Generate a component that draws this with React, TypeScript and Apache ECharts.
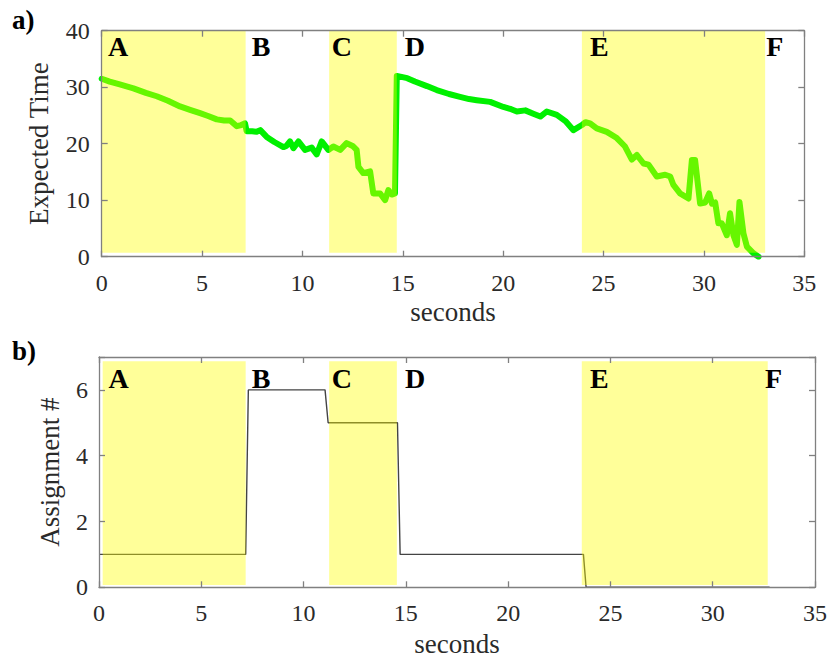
import React, { useEffect, useRef } from "react";
import * as echarts from "echarts";

// Panel a) Expected Time vs seconds: [t, value]
const expectedTime: number[][] = [
  [0, 31.5], [0.4, 31.0], [0.9, 30.5], [1.58, 29.8], [2.2, 29.0], [2.74, 28.4], [3.3, 27.6],
  [3.9, 26.6], [4.4, 26.0], [4.9, 25.4], [5.3, 24.9], [5.73, 24.3], [6.1, 24.1], [6.4, 24.1],
  [6.73, 23.1], [6.95, 23.3], [7.14, 23.6], [7.22, 22.2], [7.5, 22.2], [7.72, 22.1], [7.9, 22.4],
  [8.22, 21.2], [8.6, 20.3], [9.05, 19.4], [9.2, 19.6], [9.38, 20.4], [9.55, 19.2], [9.8, 20.4],
  [10.13, 18.9], [10.46, 19.3], [10.71, 18.1], [10.96, 20.4], [11.29, 18.9], [11.54, 19.5],
  [11.88, 18.9], [12.2, 20.1], [12.5, 19.6], [12.7, 18.9], [12.79, 15.9], [13.03, 14.8],
  [13.37, 15.1], [13.53, 11.2], [13.87, 11.2], [14.12, 10.0], [14.28, 11.8], [14.45, 11.0],
  [14.61, 11.2], [14.7, 32.0], [15.22, 31.6], [15.6, 31.0], [16.2, 30.2], [16.69, 29.5],
  [17.3, 28.8], [17.85, 28.3], [18.3, 27.9], [18.68, 27.7], [19.35, 27.4], [20.01, 26.5],
  [20.4, 26.1], [20.68, 25.7], [21.1, 25.9], [21.5, 25.3], [21.85, 24.8], [22.17, 25.7],
  [22.67, 25.1], [23.1, 24.0], [23.5, 22.4], [23.92, 23.3], [24.1, 23.8], [24.33, 23.6],
  [24.66, 22.7], [25.16, 22.1], [25.66, 21.0], [26.07, 19.5], [26.41, 17.2], [26.66, 18.0],
  [26.99, 16.5], [27.24, 16.3], [27.65, 14.2], [28.07, 14.5], [28.32, 14.2], [28.48, 12.7],
  [28.81, 11.2], [29.23, 10.3], [29.4, 17.1], [29.56, 17.1], [29.81, 9.4], [30.06, 9.6],
  [30.26, 11.2], [30.4, 9.4], [30.56, 9.6], [30.72, 5.9], [30.89, 5.9], [31.14, 3.8],
  [31.3, 7.7], [31.47, 3.8], [31.64, 2.1], [31.77, 9.7], [31.97, 4.1], [32.14, 1.8],
  [32.47, 0.6], [32.72, 0.0],
];

// Panel b) Assignment # vs seconds: [t, value]
const assignment: number[][] = [
  [0, 1], [7.17, 1], [7.3, 6], [11.05, 6], [11.2, 5], [14.59, 5], [14.72, 1],
  [23.68, 1], [23.81, 0], [32.78, 0],
];

// Shaded phases: [xStart, xEnd, yBottom, yTop]
const regionsA: number[][] = [
  [0, 7.17, 0.7, 40], [11.33, 14.7, 0.7, 40], [23.92, 33.05, 0.7, 40],
];
const regionsB: number[][] = [
  [0.18, 7.17, 0.07, 6.87], [11.25, 14.56, 0.07, 6.87], [23.6, 32.69, 0.07, 6.87],
];

// Phase letters
const phaseNames = ["A", "B", "C", "D", "E", "F"];
const lettersAX = [0.31, 7.47, 11.46, 15.1, 24.33, 33.1];
const lettersAY = 37.2;
const lettersBX = [0.46, 7.47, 11.38, 14.96, 24.0, 32.55];
const lettersBY = 6.35;

const xTicks = { min: 0, max: 35, interval: 5 };
const yTicksA = { min: 0, max: 40, interval: 10 };
const yTicksB = { min: 0, max: 7, interval: 2 };

const FONT = "Liberation Serif";

export default function App() {
  const ref = useRef<HTMLDivElement>(null);
  useEffect(() => {
    if (!ref.current) return;
    const chart = echarts.init(ref.current, undefined, { renderer: "svg" });

    const boxColor = "#808080";
    const axisCommon = (extra: any) => ({
      z: 5,
      axisLine: { show: true, onZero: false, lineStyle: { color: boxColor, width: 1.3 } },
      axisTick: { show: true, inside: true, length: 6, lineStyle: { color: boxColor, width: 1.3 } },
      splitLine: { show: false },
      ...extra,
    });
    const richNum = { n: { fontFamily: FONT, fontSize: 24, color: "#2a2a2a" } };
    const labelStyle = {
      fontFamily: FONT, fontSize: 24, color: "#2a2a2a",
      rich: richNum,
    };
    const nameStyle = { fontFamily: FONT, fontSize: 27, color: "#2a2a2a" };

    const regionSeries = (data: number[][], xi: number, yi: number) => ({
      type: "custom",
      xAxisIndex: xi,
      yAxisIndex: yi,
      z: 4,
      silent: true,
      encode: { x: [0, 1], y: [2, 3] },
      data,
      renderItem: (params: any, api: any) => {
        const p0 = api.coord([api.value(0), api.value(3)]);
        const p1 = api.coord([api.value(1), api.value(2)]);
        return {
          type: "rect",
          shape: { x: p0[0], y: p0[1], width: p1[0] - p0[0], height: p1[1] - p0[1] },
          style: { fill: "rgba(255,255,0,0.4)" },
        };
      },
    });

    const letterSeries = (xs: number[], y: number, xi: number, yi: number) => ({
      type: "custom",
      xAxisIndex: xi,
      yAxisIndex: yi,
      z: 6,
      silent: true,
      data: xs.map((x, i) => [x, y, i]),
      renderItem: (params: any, api: any) => {
        const p = api.coord([api.value(0), api.value(1)]);
        return {
          type: "text",
          x: p[0],
          y: p[1],
          style: {
            text: phaseNames[api.value(2)],
            fontFamily: FONT,
            fontSize: 28,
            fontWeight: "bold",
            fill: "#000",
            align: "left",
            verticalAlign: "middle",
          },
        };
      },
    });

    const fmtAll = (v: number) => `{n|${v}}`;
    const fmtEven = (v: number) => (v % 2 === 0 ? `{n|${v}}` : "");

    const option: any = {
      animation: false,
      textStyle: { fontFamily: FONT },
      grid: [
        { left: 101.7, right: 26.7, top: 30.7, bottom: 403.3 },
        { left: 99, right: 16, top: 357, bottom: 72.7 },
      ],
      xAxis: [
        axisCommon({
          gridIndex: 0, type: "value", position: "bottom", ...xTicks,
          name: "seconds", nameLocation: "middle", nameGap: 42, nameTextStyle: nameStyle,
          axisLabel: { ...labelStyle, margin: 14, formatter: fmtAll },
        }),
        axisCommon({ gridIndex: 0, type: "value", position: "top", ...xTicks, axisLabel: { show: false } }),
        axisCommon({
          gridIndex: 1, type: "value", position: "bottom", ...xTicks,
          name: "seconds", nameLocation: "middle", nameGap: 43, nameTextStyle: nameStyle,
          axisLabel: { ...labelStyle, margin: 14, formatter: fmtAll },
        }),
        axisCommon({ gridIndex: 1, type: "value", position: "top", ...xTicks, axisLabel: { show: false } }),
      ],
      yAxis: [
        axisCommon({
          gridIndex: 0, type: "value", position: "left", ...yTicksA,
          name: "Expected Time", nameLocation: "middle", nameGap: 49, nameTextStyle: nameStyle,
          axisLabel: { ...labelStyle, margin: 12, formatter: fmtAll },
        }),
        axisCommon({ gridIndex: 0, type: "value", position: "right", ...yTicksA, axisLabel: { show: false } }),
        axisCommon({
          gridIndex: 1, type: "value", position: "left", ...yTicksB,
          name: "Assignment #", nameLocation: "middle", nameGap: 36, nameTextStyle: nameStyle,
          axisLabel: { ...labelStyle, margin: 11, formatter: fmtEven },
        }),
        axisCommon({ gridIndex: 1, type: "value", position: "right", ...yTicksB, axisLabel: { show: false } }),
      ],
      series: [
        {
          type: "line",
          xAxisIndex: 0,
          yAxisIndex: 0,
          z: 2,
          data: expectedTime,
          showSymbol: false,
          symbol: "none",
          lineStyle: { color: "#00f000", width: 6, join: "round", cap: "round" },
        },
        regionSeries(regionsA, 0, 0),
        letterSeries(lettersAX, lettersAY, 0, 0),
        {
          type: "line",
          xAxisIndex: 2,
          yAxisIndex: 2,
          z: 2,
          data: assignment,
          showSymbol: false,
          symbol: "none",
          lineStyle: { color: "#444", width: 1.4 },
        },
        regionSeries(regionsB, 2, 2),
        letterSeries(lettersBX, lettersBY, 2, 2),
      ],
      graphic: [
        {
          type: "text", left: 12, top: 6,
          style: { text: "a)", fontFamily: FONT, fontSize: 27, fontWeight: "bold", fill: "#000" },
        },
        {
          type: "text", left: 12, top: 337,
          style: { text: "b)", fontFamily: FONT, fontSize: 27, fontWeight: "bold", fill: "#000" },
        },
      ],
    };
    chart.setOption(option);
    return () => chart.dispose();
  }, []);

  return (
    <div
      ref={ref}
      style={{ position: "absolute", left: 0, top: 0, width: 831, height: 660, background: "#fff" }}
    />
  );
}
